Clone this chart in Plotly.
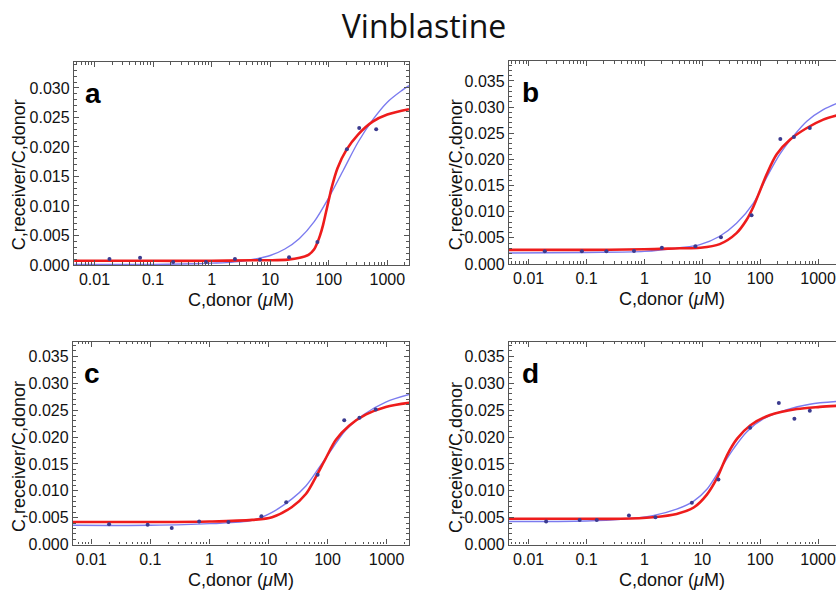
import plotly.graph_objects as go

# ---------------- data ----------------
tick_vals_x = [0.01, 0.1, 1, 10, 100, 1000]
tick_text_x = ["0.01", "0.1", "1", "10", "100", "1000"]

# panel a
pts_a_x = [0.018, 0.06, 0.22, 0.8, 2.5, 6.7, 21, 64, 204, 331, 645]
pts_a_y = [0.0010, 0.0012, 0.0005, 0.0005, 0.0010, 0.0009, 0.0013, 0.0039, 0.0196, 0.0232, 0.0230]
red_a_x = [0.0045, 0.1, 1, 5, 10, 20, 32, 45, 56, 64, 71, 80, 89, 100, 112, 141, 200, 316, 562, 1000, 2340]
red_a_y = [0.0007, 0.0007, 0.0007, 0.0008, 0.0008, 0.0009, 0.0012, 0.0017, 0.0026, 0.0038, 0.0050,
           0.0068, 0.0088, 0.0110, 0.0131, 0.0164, 0.0195, 0.0221, 0.0243, 0.0255, 0.0264]
blue_a_x = [0.0045, 0.1, 0.56, 1, 1.78, 3.16, 5.6, 10, 17.8, 31.6, 56, 100, 178, 316, 562, 1000, 1780, 2340]
blue_a_y = [0.0001, 0.0001, 0.0002, 0.0003, 0.0004, 0.0006, 0.0010, 0.0016, 0.0027, 0.0045, 0.0073,
            0.0114, 0.0161, 0.0208, 0.0246, 0.0276, 0.0296, 0.0304]

# panel b
pts_b_x = [0.019, 0.083, 0.22, 0.66, 2.0, 7.6, 21, 71, 223, 383, 720]
pts_b_y = [0.00245, 0.00245, 0.00245, 0.0025, 0.0031, 0.0034, 0.0051, 0.0093, 0.0239, 0.0243, 0.0260]
red_b_x = [0.0045, 0.1, 1, 4.1, 9.1, 20, 39, 58, 76, 100, 130, 193, 330, 640, 1230, 2100]
red_b_y = [0.0027, 0.0027, 0.0028, 0.0030, 0.0031, 0.0038, 0.0059, 0.0084, 0.0109, 0.0141, 0.0172,
           0.0210, 0.0238, 0.0260, 0.0276, 0.0284]
blue_b_x = [0.0045, 0.1, 1, 4.1, 9.1, 20, 39, 76, 130, 219, 372, 640, 1230, 2100]
blue_b_y = [0.0021, 0.0022, 0.0024, 0.0031, 0.0037, 0.0053, 0.0078, 0.0116, 0.0166, 0.0210, 0.0244,
            0.0273, 0.0295, 0.0307]

# panel c
pts_c_x = [0.02, 0.09, 0.23, 0.67, 2.1, 7.6, 20, 68, 192, 347, 655]
pts_c_y = [0.0038, 0.0037, 0.0031, 0.0043, 0.0042, 0.0053, 0.0079, 0.0130, 0.0231, 0.0236, 0.0251]
red_c_x = [0.0045, 0.1, 1, 5.3, 11.5, 25, 43, 63, 94, 139, 232, 450, 970, 2600]
red_c_y = [0.0042, 0.0042, 0.0043, 0.0046, 0.0051, 0.0070, 0.0094, 0.0125, 0.0161, 0.0195, 0.0221,
           0.0242, 0.0256, 0.0264]
blue_c_x = [0.0045, 0.1, 1, 5.3, 11.5, 25, 43, 72, 123, 204, 400, 970, 2600]
blue_c_y = [0.0036, 0.0036, 0.0039, 0.0045, 0.0060, 0.0085, 0.0109, 0.0143, 0.0180, 0.0213, 0.0241,
            0.0265, 0.0280]

# panel d
pts_d_x = [0.02, 0.076, 0.15, 0.54, 1.55, 6.6, 19, 67, 210, 390, 720]
pts_d_y = [0.0043, 0.0046, 0.0046, 0.0054, 0.0051, 0.0078, 0.0121, 0.0217, 0.0263, 0.0234, 0.0249]
red_d_x = [0.0045, 0.1, 0.39, 1.4, 3.6, 7.1, 12, 18, 27, 40, 68, 148, 430, 1070, 2100]
red_d_y = [0.0048, 0.0048, 0.0048, 0.0051, 0.0057, 0.0069, 0.0093, 0.0124, 0.0167, 0.0197, 0.0222,
           0.0241, 0.0252, 0.0256, 0.0258]
blue_d_x = [0.0045, 0.1, 0.39, 1.4, 3.6, 7.1, 12, 20, 35, 59, 115, 290, 720, 2100]
blue_d_y = [0.0043, 0.0044, 0.0047, 0.0054, 0.0066, 0.0081, 0.0103, 0.0139, 0.0179, 0.0210, 0.0234,
            0.0251, 0.0261, 0.0266]

panels = [
    ("a", pts_a_x, pts_a_y, red_a_x, red_a_y, blue_a_x, blue_a_y),
    ("b", pts_b_x, pts_b_y, red_b_x, red_b_y, blue_b_x, blue_b_y),
    ("c", pts_c_x, pts_c_y, red_c_x, red_c_y, blue_c_x, blue_c_y),
    ("d", pts_d_x, pts_d_y, red_d_x, red_d_y, blue_d_x, blue_d_y),
]

x_title = "C,donor (<i>\u03bc</i>M)"
y_title = "C,receiver/C,donor"

# ---------------- layout geometry ----------------
W, H = 836, 596
# (left, right, top, bottom) in pixels
boxes = [(74, 409, 63, 269), (509, 836, 62, 268), (73, 409, 347, 553), (509, 836, 347, 553)]
x_ranges = [[-2.35, 3.37], [-2.34, 3.31], [-2.31, 3.38], [-2.34, 3.31]]
y_ranges = [[0, 0.0344], [0, 0.0388], [0, 0.0377], [0, 0.0377]]
y_ticks = [[0, 0.005, 0.010, 0.015, 0.020, 0.025, 0.030],
           [0, 0.005, 0.010, 0.015, 0.020, 0.025, 0.030, 0.035],
           [0, 0.005, 0.010, 0.015, 0.020, 0.025, 0.030, 0.035],
           [0, 0.005, 0.010, 0.015, 0.020, 0.025, 0.030, 0.035]]
right_frame = [True, False, True, False]
# axis-title centres in pixels: (x-title cx, cy), (y-title cx, cy)
xtitle_pos = [(241, 305), (672, 304), (241, 589), (672, 589)]
ytitle_pos = [(19, 178), (456, 177), (19, 464), (456, 464)]

FRAME = "#555555"
TICKFONT = dict(family="Liberation Sans, Arial", size=16, color="#111111")
TITLEFONT = dict(family="Liberation Sans, Arial", size=18, color="#111111")

fig = go.Figure()
layout = dict(
    width=W, height=H, margin=dict(l=0, r=0, t=0, b=0),
    paper_bgcolor="white", plot_bgcolor="white", showlegend=False,
    title=dict(text="Vinblastine", x=424 / W, xanchor="center", y=1 - 27 / H, yanchor="middle",
               xref="paper", yref="container",
               font=dict(family="Open Sans", size=32, color="#111111")),
)
annotations = []

for i, (lab, px, py, rx, ry, bx, by) in enumerate(panels):
    n = "" if i == 0 else str(i + 1)
    xa, ya = "x" + n, "y" + n
    fig.add_trace(go.Scatter(x=bx, y=by, mode="lines",
                             line=dict(color="#7b7bef", width=1.4, shape="spline", smoothing=0.9),
                             xaxis=xa, yaxis=ya, hoverinfo="skip"))
    fig.add_trace(go.Scatter(x=rx, y=ry, mode="lines",
                             line=dict(color="#ee1c1c", width=2.6, shape="spline", smoothing=0.9),
                             xaxis=xa, yaxis=ya, hoverinfo="skip"))
    fig.add_trace(go.Scatter(x=px, y=py, mode="markers", marker=dict(color="#3b3b8f", size=4),
                             xaxis=xa, yaxis=ya))
    l, r, t, b = boxes[i]
    layout["xaxis" + n] = dict(
        type="log", domain=[l / W, r / W], range=x_ranges[i], anchor=ya,
        tickvals=tick_vals_x, ticktext=tick_text_x, ticks="inside", ticklen=5, tickwidth=1,
        tickcolor=FRAME, showline=True, linecolor=FRAME, linewidth=1.3, mirror="allticks",
        showgrid=False, zeroline=False, tickfont=TICKFONT,
        minor=dict(ticks="inside", ticklen=2.5, tickcolor=FRAME, dtick="D1", showgrid=False),
    )
    layout["yaxis" + n] = dict(
        domain=[1 - b / H, 1 - t / H], range=y_ranges[i], anchor=xa,
        tickvals=y_ticks[i], tickformat=".3f", ticks="inside", ticklen=5, tickwidth=1,
        tickcolor=FRAME, showline=True, linecolor=FRAME, linewidth=1.3,
        mirror="allticks" if right_frame[i] else False,
        showgrid=False, zeroline=False, tickfont=TICKFONT,
        minor=dict(ticks="inside", ticklen=2.5, tickcolor=FRAME, dtick=0.001, showgrid=False),
    )
    annotations.append(dict(text="<b>%s</b>" % lab, xref=xa + " domain", yref=ya + " domain",
                            x=(9 if i in (0, 2) else 11) / (r - l), y=1 - 14 / (b - t),
                            xanchor="left", yanchor="top", showarrow=False,
                            font=dict(family="Liberation Sans, Arial", size=28, color="black")))
    cx, cy = xtitle_pos[i]
    annotations.append(dict(text=x_title, xref="paper", yref="paper", x=cx / W, y=1 - cy / H,
                            xanchor="center", yanchor="middle", showarrow=False, font=TITLEFONT))
    cx, cy = ytitle_pos[i]
    annotations.append(dict(text=y_title, xref="paper", yref="paper", x=cx / W, y=1 - cy / H,
                            xanchor="center", yanchor="middle", showarrow=False, textangle=-90,
                            font=TITLEFONT))

layout["annotations"] = annotations
fig.update_layout(**layout)
fig.write_html("out.html")
